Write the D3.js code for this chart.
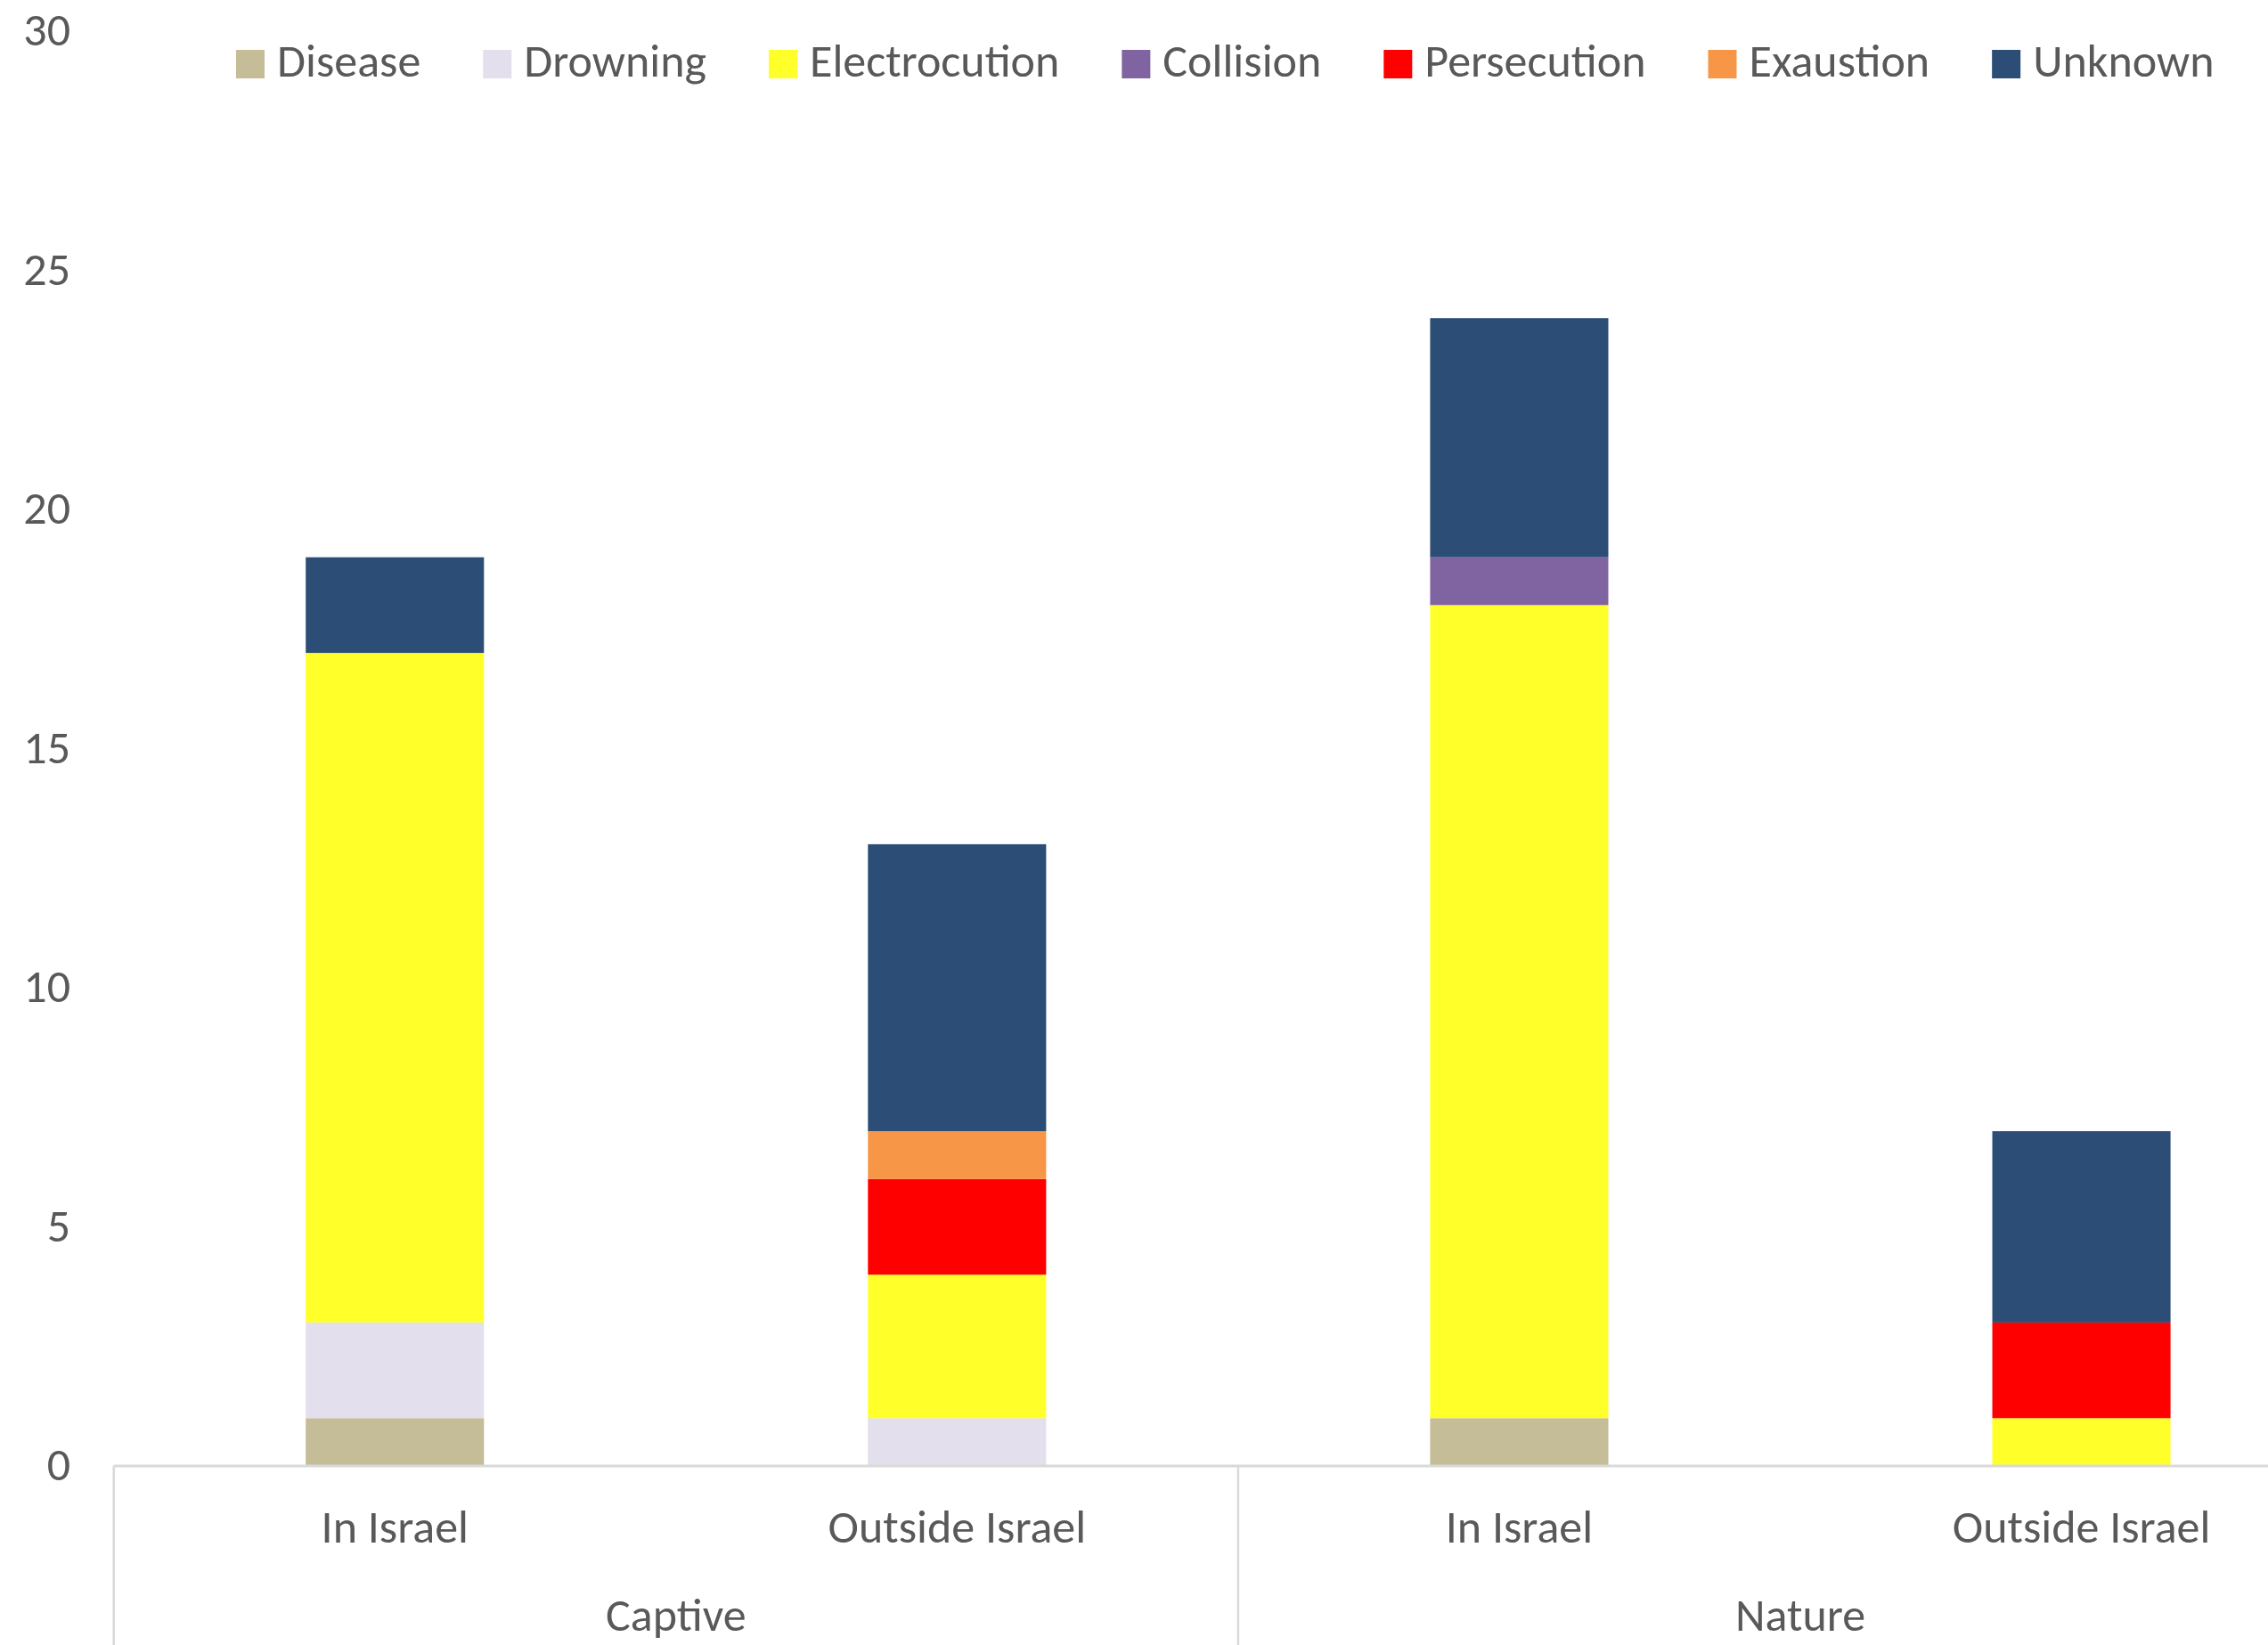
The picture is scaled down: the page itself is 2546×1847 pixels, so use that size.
<!DOCTYPE html>
<html>
<head>
<meta charset="utf-8">
<script src="https://cdn.jsdelivr.net/npm/d3@7"></script>
<style>
  html, body { margin: 0; padding: 0; background: #ffffff; overflow: hidden; }
  svg { display: block; }
  text { font-family: Carlito, Calibri, "Liberation Sans Narrow", "Open Sans", sans-serif; fill: #595959; }
</style>
</head>
<body>
<svg id="chart"></svg>
<script>
// Causes of death, stacked bottom to top in this order
const causes = ["Disease", "Drowning", "Electrocution", "Collision", "Persecution", "Exaustion", "Unknown"];
const causeColors = ["#C4BD97", "#E4DFEC", "#FFFF2A", "#8064A2", "#FF0000", "#F79646", "#2C4D75"];

// Two-level category axis: group / location
const groups = ["Captive", "Nature"];
const locations = ["In Israel", "Outside Israel"];

// Counts per cause for each bar (Captive-In, Captive-Out, Nature-In, Nature-Out)
const disease       = [1, 0, 1, 0];
const drowning      = [2, 1, 0, 0];
const electrocution = [14, 3, 17, 1];
const collision     = [0, 0, 1, 0];
const persecution   = [0, 2, 0, 2];
const exaustion     = [0, 1, 0, 0];
const unknown       = [2, 6, 5, 4];

const yTicks = [0, 5, 10, 15, 20, 25, 30];

const W = 2546, H = 1847;
const svg = d3.select("#chart").attr("width", W).attr("height", H);

// Build rows for d3.stack
const seriesValues = [disease, drowning, electrocution, collision, persecution, exaustion, unknown];
const barKeys = [];
groups.forEach(g => locations.forEach(l => barKeys.push(g + "|" + l)));
const rows = barKeys.map((k, i) => {
  const r = { key: k, group: k.split("|")[0], loc: k.split("|")[1] };
  causes.forEach((c, j) => { r[c] = seriesValues[j][i]; });
  return r;
});
const stacked = d3.stack().keys(causes)(rows);

// Plot area
const plotLeft = 127.7, step = 631.1;
const plotRight = plotLeft + step * barKeys.length;
const y0 = 1646, yTop = 35;

const x = d3.scaleBand()
  .domain(barKeys)
  .range([plotLeft, plotRight])
  .paddingInner(0.683)
  .paddingOuter(0.683 / 2);

const y = d3.scaleLinear().domain([0, 30]).range([y0, yTop]);
const color = d3.scaleOrdinal().domain(causes).range(causeColors);

// Bars
const layers = svg.append("g").selectAll("g")
  .data(stacked)
  .join("g")
  .attr("fill", d => color(d.key));

layers.selectAll("rect")
  .data(d => d.filter(s => s[1] - s[0] > 0))
  .join("rect")
  .attr("x", d => x(d.data.key))
  .attr("width", x.bandwidth())
  .attr("y", d => y(d[1]))
  .attr("height", d => y(d[0]) - y(d[1]));

// Y axis labels (no axis line, no ticks)
const yAxis = d3.axisLeft(y).tickValues(yTicks).tickSize(0).tickPadding(0);
const yg = svg.append("g").attr("transform", "translate(79,0)").call(yAxis);
yg.select(".domain").remove();
yg.selectAll("text")
  .attr("font-size", 52)
  .attr("font-family", null)
  .attr("fill", "#595959")
  .attr("dy", "0.3em");

// Category axis baseline and group separators
const axisColor = "#D9D9D9";
svg.append("line")
  .attr("x1", plotLeft).attr("x2", plotRight)
  .attr("y1", y(0)).attr("y2", y(0))
  .attr("stroke", axisColor).attr("stroke-width", 3);

const groupEdges = [plotLeft, plotLeft + step * locations.length, plotRight];
svg.append("g").selectAll("line")
  .data(groupEdges)
  .join("line")
  .attr("x1", d => d).attr("x2", d => d)
  .attr("y1", y(0)).attr("y2", H + 10)
  .attr("stroke", axisColor).attr("stroke-width", 2.5);

// Location labels under each bar
const xAxis = d3.axisBottom(x).tickSize(0).tickPadding(0)
  .tickFormat(k => k.split("|")[1]);
const xg = svg.append("g").attr("transform", `translate(0,${y0})`).call(xAxis);
xg.select(".domain").remove();
xg.selectAll("text")
  .attr("font-size", 52)
  .attr("font-family", null)
  .attr("fill", "#595959")
  .attr("dy", null)
  .attr("y", 86);

// Group labels centred under their pair of bars
svg.append("g").selectAll("text")
  .data(groups)
  .join("text")
  .attr("x", (g, i) => (groupEdges[i] + groupEdges[i + 1]) / 2)
  .attr("y", 1831)
  .attr("text-anchor", "middle")
  .attr("font-size", 52)
  .text(d => d);

// Legend: swatch + label, laid out left to right
const legend = svg.append("g");
const sw = 32, gapText = 14, gapItem = 70;
let lx = 265;
causes.forEach((c, i) => {
  const item = legend.append("g");
  item.append("rect")
    .attr("x", lx).attr("y", 56)
    .attr("width", sw).attr("height", sw)
    .attr("fill", color(c));
  const t = item.append("text")
    .attr("x", lx + sw + gapText)
    .attr("y", 86)
    .attr("font-size", 52)
    .text(c);
  lx += sw + gapText + t.node().getComputedTextLength() + gapItem;
});
</script>
</body>
</html>
